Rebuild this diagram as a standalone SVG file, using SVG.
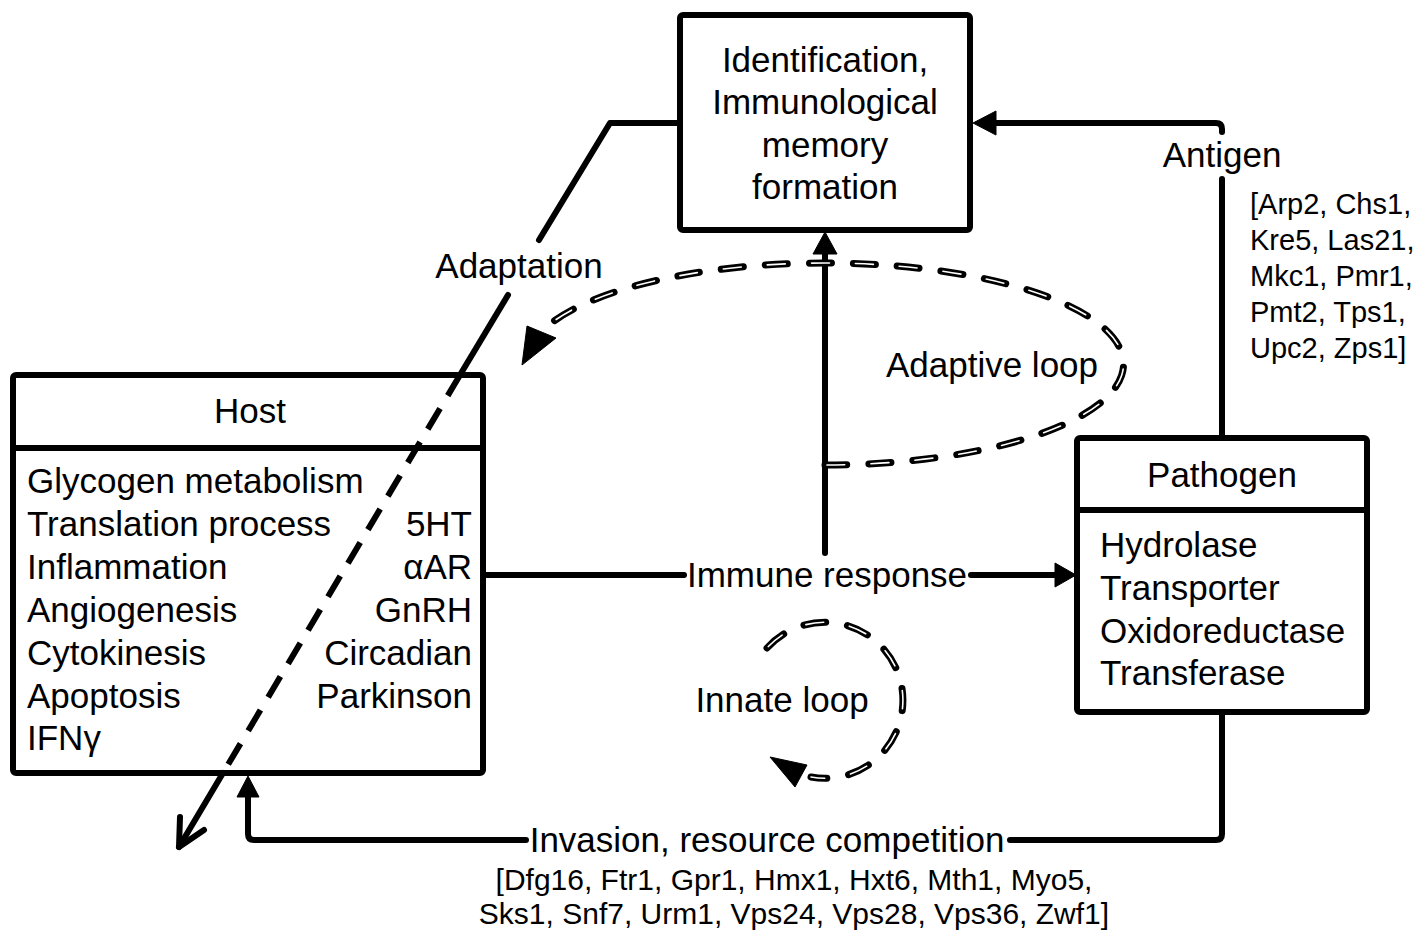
<svg xmlns="http://www.w3.org/2000/svg" width="1417" height="932" viewBox="0 0 1417 932">
<style>
text{font-family:"Liberation Sans",Arial,sans-serif;fill:#000}
.t{font-size:35px}
.g{font-size:30px}
.ga{font-size:29px}
.c{text-anchor:middle}
.e{text-anchor:end}
.box{fill:#fff;stroke:#000;stroke-width:6;stroke-linejoin:round}
.sep{stroke:#000;stroke-width:6;fill:none}
.ln{fill:none;stroke:#000;stroke-width:6;stroke-linejoin:round;stroke-linecap:round}
.dl{fill:none;stroke:#000;stroke-width:6;stroke-dasharray:24 15}
.lp{fill:none;stroke:#000;stroke-width:7;stroke-linecap:round;stroke-dasharray:22 22}
.lpw{fill:none;stroke:#fff;stroke-width:1.6;stroke-linecap:round;stroke-dasharray:18 26;stroke-dashoffset:-2}
.ah{fill:#000;stroke:#000;stroke-width:1;stroke-linejoin:round}
</style>
<rect width="1417" height="932" fill="#fff"/>

<g id="identification">
<rect class="box" x="680" y="15" width="290" height="215" rx="3"/>
<text class="t c" x="825" y="72">Identification,</text>
<text class="t c" x="825" y="114">Immunological</text>
<text class="t c" x="825" y="157">memory</text>
<text class="t c" x="825" y="199">formation</text>
</g>

<g id="host">
<rect class="box" x="13" y="375" width="470" height="398" rx="3"/>
<line class="sep" x1="13" y1="448" x2="483" y2="448"/>
<text class="t c" x="250" y="423">Host</text>
<text class="t" x="27" y="493">Glycogen metabolism</text>
<text class="t" x="27" y="536">Translation process</text>
<text class="t" x="27" y="579">Inflammation</text>
<text class="t" x="27" y="622">Angiogenesis</text>
<text class="t" x="27" y="665">Cytokinesis</text>
<text class="t" x="27" y="708">Apoptosis</text>
<text class="t" x="27" y="750">IFNγ</text>
<text class="t e" x="472" y="536">5HT</text>
<text class="t e" x="472" y="579">αAR</text>
<text class="t e" x="472" y="622">GnRH</text>
<text class="t e" x="472" y="665">Circadian</text>
<text class="t e" x="472" y="708">Parkinson</text>
</g>

<g id="pathogen">
<rect class="box" x="1077" y="438" width="290" height="274" rx="3"/>
<line class="sep" x1="1077" y1="510" x2="1367" y2="510"/>
<text class="t c" x="1222" y="487">Pathogen</text>
<text class="t" x="1100" y="557">Hydrolase</text>
<text class="t" x="1100" y="600">Transporter</text>
<text class="t" x="1100" y="643">Oxidoreductase</text>
<text class="t" x="1100" y="685">Transferase</text>
</g>

<g id="connectors">
<!-- Antigen: pathogen -> identification -->
<path class="ln" d="M1222,438 L1222,179"/>
<path class="ln" d="M1222,132 L1222,129 Q1222,123 1216,123 L994,123"/>
<polygon class="ah" points="973,123 996,111 996,135"/>
<text class="t c" x="1222" y="167">Antigen</text>
<text class="ga" x="1250" y="214">[Arp2, Chs1,</text>
<text class="ga" x="1250" y="250">Kre5, Las21,</text>
<text class="ga" x="1250" y="286">Mkc1, Pmr1,</text>
<text class="ga" x="1250" y="322">Pmt2, Tps1,</text>
<text class="ga" x="1250" y="358">Upc2, Zps1]</text>

<!-- Adaptation: identification -> host (down-left) -->
<path class="ln" d="M680,123 L610,123 L539,240"/>
<path class="ln" d="M508,295 L460,375"/>
<path class="dl" d="M460,375 L223,773"/>
<path class="ln" d="M223,773 L179,847"/>
<polyline class="ln" points="180,817 179,847 204,830"/>
<text class="t c" x="519" y="278">Adaptation</text>

<!-- Immune response: host -> pathogen, and up to identification -->
<path class="ln" d="M483,575 L684,575"/>
<path class="ln" d="M971,575 L1057,575"/>
<polygon class="ah" points="1076,575 1055,563 1055,587"/>
<path class="ln" d="M825,553 L825,252"/>
<polygon class="ah" points="825,232 813,254 837,254"/>
<text class="t c" x="827" y="587">Immune response</text>

<!-- Invasion: pathogen -> host -->
<path class="ln" d="M1222,712 L1222,834 Q1222,840 1216,840 L1010,840"/>
<path class="ln" d="M526,840 L254,840 Q248,840 248,834 L248,796"/>
<polygon class="ah" points="248,776 237,797 259,797"/>
<text class="t c" x="767" y="852">Invasion, resource competition</text>
<text class="g c" x="794" y="890">[Dfg16, Ftr1, Gpr1, Hmx1, Hxt6, Mth1, Myo5,</text>
<text class="g c" x="794" y="924">Sks1, Snf7, Urm1, Vps24, Vps28, Vps36, Zwf1]</text>
</g>

<g id="adaptive-loop">
<path class="lp" d="M825,465 A299,101 0 1 0 543,330"/>
<path class="lpw" d="M825,465 A299,101 0 1 0 543,330"/>
<polygon class="ah" points="522,365 527,326 556,338"/>
<text class="t c" x="992" y="377">Adaptive loop</text>
</g>

<g id="innate-loop">
<path class="lp" d="M767,648 A78,78 0 1 1 811,777"/>
<path class="lpw" d="M767,648 A78,78 0 1 1 811,777"/>
<polygon class="ah" points="770,757 807,765 795,787"/>
<text class="t c" x="782" y="712">Innate loop</text>
</g>
</svg>
